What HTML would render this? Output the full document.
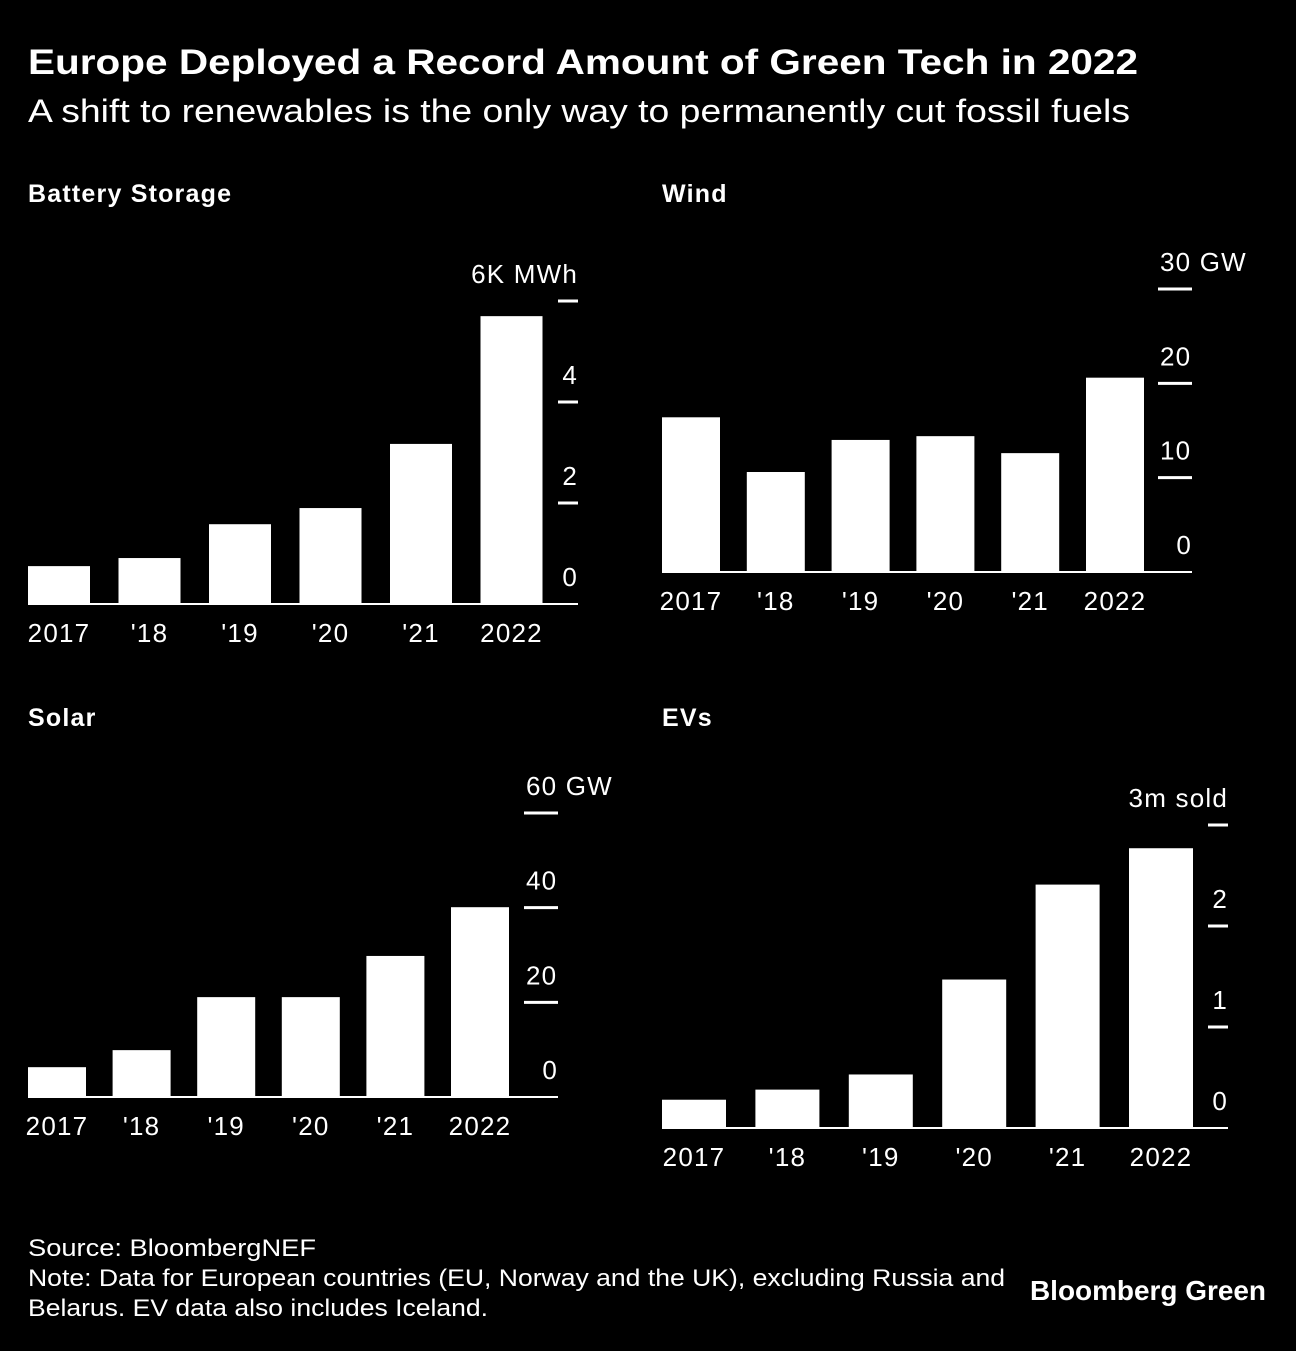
<!DOCTYPE html>
<html><head><meta charset="utf-8">
<style>
body{margin:0;background:#000;width:1296px;height:1346px;overflow:hidden;font-family:"Liberation Sans",Arial,sans-serif;color:#fff}
svg text{font-family:"Liberation Sans",Arial,sans-serif;fill:#fff}
</style></head><body>
<svg id="s" width="1296" height="1346">
<text x="28" y="74" font-size="35" font-weight="bold" textLength="1110" lengthAdjust="spacingAndGlyphs">Europe Deployed a Record Amount of Green Tech in 2022</text>
<text x="28" y="122" font-size="32" textLength="1102" lengthAdjust="spacingAndGlyphs">A shift to renewables is the only way to permanently cut fossil fuels</text>
<text x="28" y="1256" font-size="24" textLength="288" lengthAdjust="spacingAndGlyphs">Source: BloombergNEF</text>
<text x="28" y="1286" font-size="24" textLength="977" lengthAdjust="spacingAndGlyphs">Note: Data for European countries (EU, Norway and the UK), excluding Russia and</text>
<text x="28" y="1316" font-size="24" textLength="460" lengthAdjust="spacingAndGlyphs">Belarus. EV data also includes Iceland.</text>
<text x="1266" y="1300" font-size="28" font-weight="bold" text-anchor="end" textLength="236" lengthAdjust="spacingAndGlyphs">Bloomberg Green</text>
</svg>
<script>
const years = ["2017","'18","'19","'20","'21","2022"];
const batteryValues = [0.75,0.91,1.58,1.9,3.17,5.7];
const batteryTicks = [0,2,4,6];
const batteryTickLabels = ["0","2","4","6K MWh"];
const windValues = [16.4,10.6,14.0,14.4,12.6,20.6];
const windTicks = [0,10,20,30];
const windTickLabels = ["0","10","20","30 GW"];
const solarValues = [6.3,9.9,21.1,21.1,29.8,40.1];
const solarTicks = [0,20,40,60];
const solarTickLabels = ["0","20","40","60 GW"];
const evValues = [0.28,0.38,0.53,1.47,2.41,2.77];
const evTicks = [0,1,2,3];
const evTickLabels = ["0","1","2","3m sold"];

const svg=document.getElementById('s');
const NS='http://www.w3.org/2000/svg';
function mk(tag,attrs){const e=document.createElementNS(NS,tag);for(const k in attrs)e.setAttribute(k,attrs[k]);svg.appendChild(e);return e;}

function chart(cfg){
  const t=mk('text',{x:cfg.x0,y:cfg.titleY,'font-size':25,'font-weight':'bold','letter-spacing':1.2});
  t.textContent=cfg.title;
  
  
  const maxT=cfg.ticks[cfg.ticks.length-1];
  const y=v=>cfg.base-(v/maxT)*(cfg.base-cfg.top);
  const x=i=>cfg.x0+i*cfg.step;
  cfg.values.forEach((v,i)=>{
    const r=mk('rect',{x:x(i),y:y(v),width:cfg.bw,height:cfg.base-y(v),fill:'#fff'});
    
    
    const l=mk('text',{x:x(i)+cfg.bw/2,y:cfg.base+38,'font-size':26,'letter-spacing':1.2,'text-anchor':'middle'});
    l.textContent=cfg.cats[i];
    
    
  });
  const ax=mk('line',{x1:cfg.x0,x2:cfg.tx2,y1:cfg.base,y2:cfg.base,stroke:'#fff','stroke-width':2});
  
  
  cfg.ticks.forEach((tv,i)=>{
    if(i>0){
      const m=mk('line',{x1:cfg.tx1,x2:cfg.tx2,y1:y(tv),y2:y(tv),stroke:'#fff','stroke-width':3});
      
      
    }
    const right=cfg.anchor==='end'||i===0;
    const l=mk('text',{x:right?cfg.tx2:cfg.tx1+2,y:y(tv)-18,'font-size':26,'letter-spacing':1.2,'text-anchor':right?'end':'start'});
    l.textContent=cfg.tickLabels[i];
    
    
  });
}
chart({key:'battery',title:'Battery Storage',titleY:202,cats:years,values:batteryValues,ticks:batteryTicks,tickLabels:batteryTickLabels,x0:28,step:90.5,bw:62,base:604,top:301,tx1:558,tx2:578,anchor:'end'});
chart({key:'wind',title:'Wind',titleY:202,cats:years,values:windValues,ticks:windTicks,tickLabels:windTickLabels,x0:662,step:84.8,bw:58,base:572,top:289,tx1:1158,tx2:1192,anchor:'start'});
chart({key:'solar',title:'Solar',titleY:726,cats:years,values:solarValues,ticks:solarTicks,tickLabels:solarTickLabels,x0:28,step:84.6,bw:58,base:1097,top:813,tx1:524,tx2:558,anchor:'start'});
chart({key:'evs',title:'EVs',titleY:726,cats:years,values:evValues,ticks:evTicks,tickLabels:evTickLabels,x0:662,step:93.4,bw:64,base:1128,top:825,tx1:1208,tx2:1228,anchor:'end'});
</script>
</body></html>
